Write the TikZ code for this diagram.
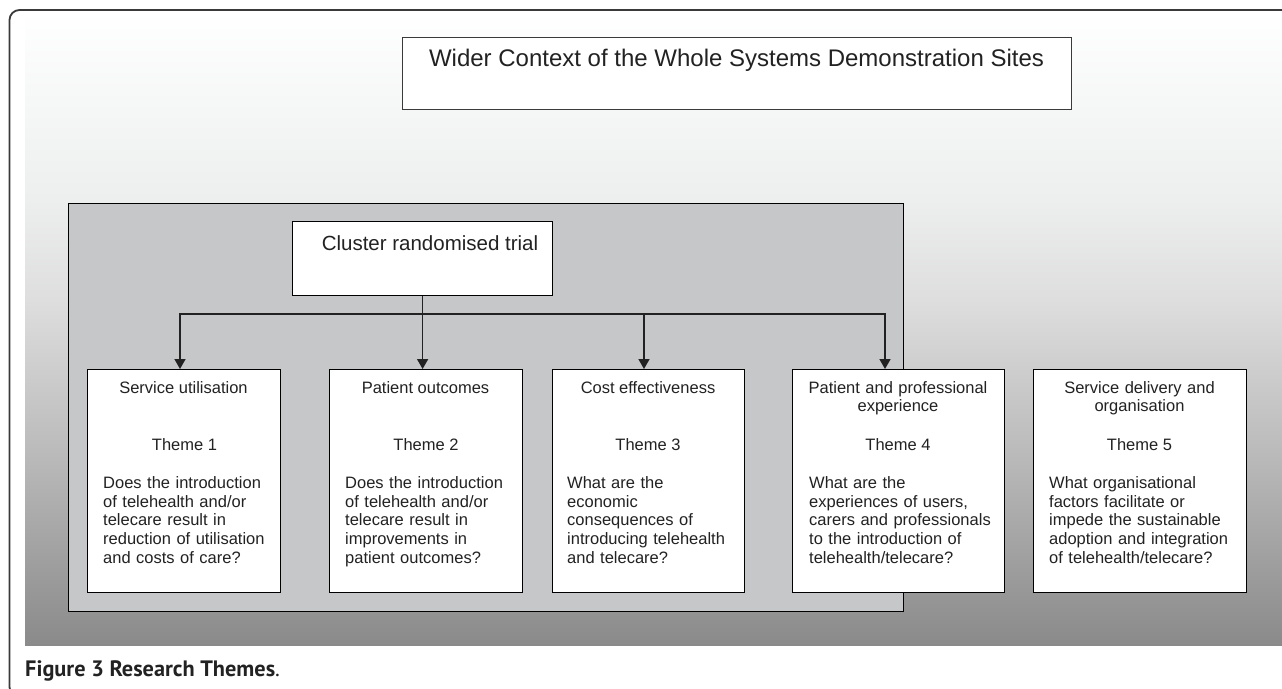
\documentclass[tikz,border=0pt]{standalone}
\usepackage{fontspec}
\setmainfont{Liberation Sans}
\newfontfamily\capfont{PT Sans}
\usetikzlibrary{arrows.meta,calc}
\definecolor{g0}{HTML}{8A8A8A}
\definecolor{g1}{HTML}{A2A2A2}
\definecolor{g2}{HTML}{BBBBBB}
\definecolor{g3}{HTML}{CBCBCB}
\definecolor{g4}{HTML}{DEDEDE}
\definecolor{g5}{HTML}{EDEEEE}
\definecolor{g6}{HTML}{F6F7F7}
\definecolor{framegray}{HTML}{C6C7C9}
\definecolor{txt}{HTML}{222222}
\definecolor{outline}{HTML}{3A3A3A}
\pgfdeclareverticalshading{bgshade}{100bp}{color(0bp)=(g0); color(25bp)=(g0); color(32.5bp)=(g1); color(40.4bp)=(g2); color(45.9bp)=(g3); color(52.3bp)=(g4); color(60.2bp)=(g5); color(68bp)=(g6); color(75bp)=(white); color(100bp)=(white)}
\tikzset{
  tbox/.style={draw=black, line width=1.2pt, fill=white, inner sep=0pt, anchor=north west, rectangle},
  arr/.style={draw=txt, line width=1.6pt, -{Triangle[length=10pt,width=11pt]}},
  hdr/.style={anchor=base, inner sep=0pt, text=txt, align=center, font=\fontsize{16.5}{18.8}\selectfont},
  qtxt/.style={anchor=base west, inner sep=0pt, text=txt, align=left, font=\fontsize{16.5}{18.8}\selectfont},
}
\begin{document}
\begin{tikzpicture}[x=1pt,y=-1pt]
\useasboundingbox (0,0) rectangle (1282,688);
% background gradient
\shade[shading=bgshade] (25,12) rectangle (1282,645);
% outer frame
\draw[outline, line width=1.8pt, rounded corners=10pt] (1300,697) -- (9.5,697) -- (9.5,10) -- (1300,10);
% cluster trial frame
\node[tbox, fill=framegray, minimum width=835pt, minimum height=408pt] (frame) at (68,203) {};
% title box
\node[tbox, draw=outline, line width=1.4pt, minimum width=669pt, minimum height=72pt] (title) at (402,37) {};
\node[anchor=base, inner sep=0pt, text=txt, font=\fontsize{24}{28}\selectfont] (titletxt) at (736.5,66) {Wider Context of the Whole Systems Demonstration Sites};
% cluster box
\node[tbox, minimum width=260pt, minimum height=74pt] (cl) at (292,221) {};
\node[anchor=base, inner sep=0pt, text=txt, font=\fontsize{20.5}{24}\selectfont] (cltxt) at (430,250) {Cluster randomised trial};
% theme boxes
\node[tbox, minimum width=193pt, minimum height=223pt] (t1) at (87,369) {};
\node[tbox, minimum width=193pt, minimum height=223pt] (t2) at (329,369) {};
\node[tbox, minimum width=192pt, minimum height=223pt] (t3) at (552,369) {};
\node[tbox, minimum width=212pt, minimum height=223pt] (t4) at (792,369) {};
\node[tbox, minimum width=213pt, minimum height=223pt] (t5) at (1033,369) {};
% connectors
\coordinate (bL) at (180,314);
\coordinate (b3) at (644,314);
\coordinate (bR) at (885,314);
\draw[arr] (cl.south |- bL) -- (bL) -- (bL |- t1.north);
\draw[arr] (cl.south |- bL) -- (bR) -- (bR |- t4.north);
\draw[arr] (b3) -- (b3 |- t3.north);
\draw[arr] (cl.south) -- (cl.south |- t2.north);
% box texts
\node[hdr] (h1) at (183.5,393) {Service utilisation};
\node[hdr] (h2) at (425.5,393) {Patient outcomes};
\node[hdr] (h3) at (648,393) {Cost effectiveness};
\node[hdr, text width=212pt] (h4) at (898,393) {Patient and professional\\experience};
\node[hdr, text width=213pt] (h5) at (1139.5,393) {Service delivery and\\organisation};
\node[hdr] (n1) at (184.5,450) {Theme 1};
\node[hdr] (n2) at (426,450) {Theme 2};
\node[hdr] (n3) at (648,450) {Theme 3};
\node[hdr] (n4) at (898,450) {Theme 4};
\node[hdr] (n5) at (1139.5,450) {Theme 5};
\node[qtxt, text width=180pt] (q1) at (103,488.3) {Does the introduction\\of telehealth and/or\\telecare result in\\reduction of utilisation\\and costs of care?};
\node[qtxt, text width=180pt] (q2) at (345,488.3) {Does the introduction\\of telehealth and/or\\telecare result in\\improvements in\\patient outcomes?};
\node[qtxt, text width=180pt] (q3) at (567,488.3) {What are the\\economic\\consequences of\\introducing telehealth\\and telecare?};
\node[qtxt, text width=200pt] (q4) at (809,488.3) {What are the\\experiences of users,\\carers and professionals\\to the introduction of\\telehealth/telecare?};
\node[qtxt, text width=200pt] (q5) at (1049,488.3) {What organisational\\factors facilitate or\\impede the sustainable\\adoption and integration\\of telehealth/telecare?};
% caption
\node[anchor=base west, inner sep=0pt, text=txt, font=\capfont\fontsize{22.3}{26}\selectfont] (cap) at (25,676.5) {\textbf{Figure 3 Research Themes}.};
\end{tikzpicture}
\end{document}
